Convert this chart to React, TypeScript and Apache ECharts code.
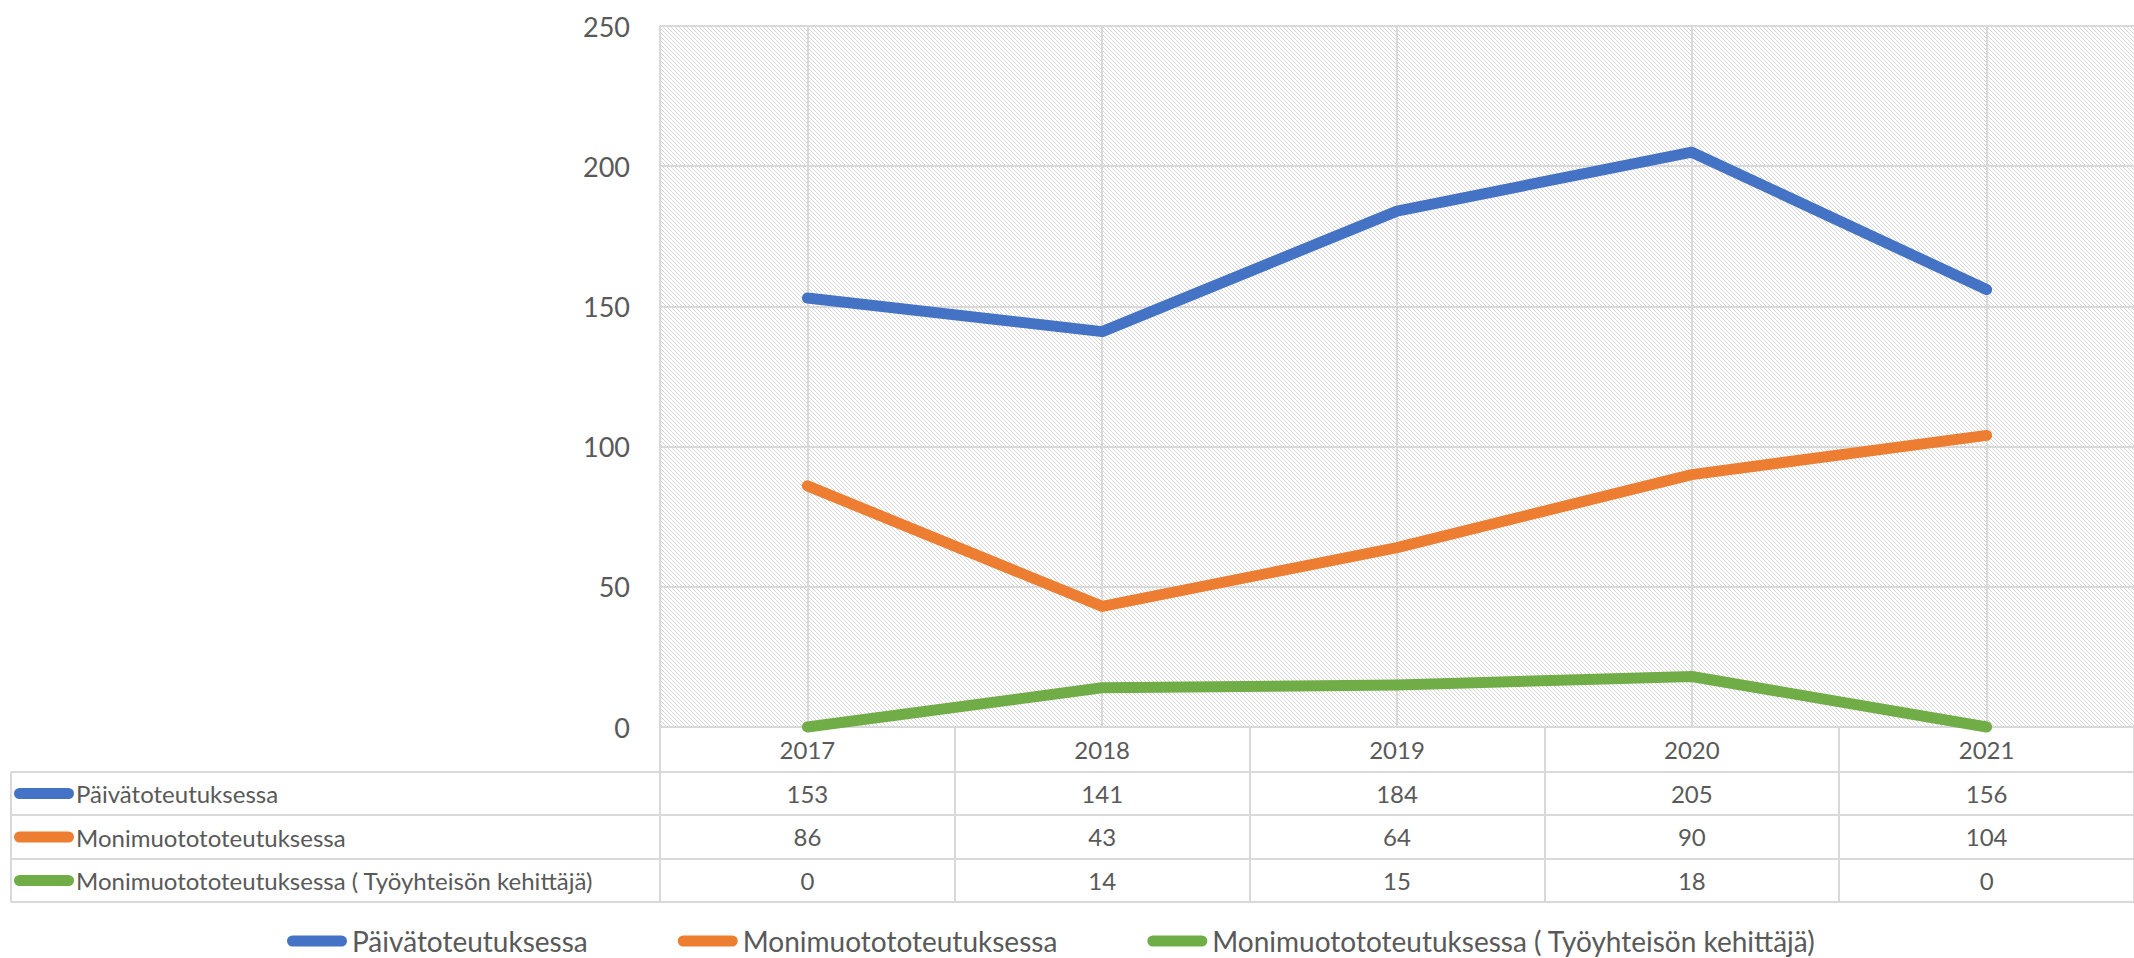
import React, { useEffect, useRef } from 'react';
import * as echarts from 'echarts';

const years = ['2017', '2018', '2019', '2020', '2021'];
const seriesNames = [
  'Päivätoteutuksessa',
  'Monimuotototeutuksessa',
  'Monimuotototeutuksessa ( Työyhteisön kehittäjä)',
];
const paivaValues = [153, 141, 184, 205, 156];
const monimuotoValues = [86, 43, 64, 90, 104];
const tyoyhteisoValues = [0, 14, 15, 18, 0];
const seriesValues = [paivaValues, monimuotoValues, tyoyhteisoValues];
const seriesColors = ['#4472C4', '#ED7D31', '#70AD47'];
const yMin = 0;
const yMax = 250;
const yInterval = 50;

const TEXT = '#595959';
const LINE = '#d9d9d9';
const FONT = 'Lato';

function makePattern() {
  const c = document.createElement('canvas');
  c.width = 4;
  c.height = 4;
  const ctx = c.getContext('2d')!;
  ctx.fillStyle = '#ffffff';
  ctx.fillRect(0, 0, 4, 4);
  ctx.fillStyle = '#d6d6d6';
  for (let i = 0; i < 4; i++) ctx.fillRect(i, i, 1, 1);
  return { image: c, repeat: 'repeat', imageWidth: 4, imageHeight: 4 } as any;
}

export default function App() {
  const ref = useRef<HTMLDivElement>(null);
  useEffect(() => {
    if (!ref.current) return;
    const chart = echarts.init(ref.current, undefined, { renderer: 'svg' });

    const plotBottom = 727;
    const rowLines = [772, 815, 859, 902];
    const graphics: any[] = [];
    rowLines.forEach((y) =>
      graphics.push({
        type: 'line',
        silent: true,
        shape: { x1: 11, y1: y, x2: 2134, y2: y },
        style: { stroke: LINE, lineWidth: 2 },
      })
    );
    graphics.push({
      type: 'line',
      silent: true,
      shape: { x1: 11, y1: rowLines[0], x2: 11, y2: rowLines[3] },
      style: { stroke: LINE, lineWidth: 2 },
    });
    seriesNames.forEach((name, i) => {
      const cy = (rowLines[i] + rowLines[i + 1]) / 2;
      graphics.push({
        type: 'rect',
        silent: true,
        shape: { x: 14, y: cy - 5.5, width: 60, height: 11, r: 5.5 },
        style: { fill: seriesColors[i] },
      });
      graphics.push({
        type: 'text',
        silent: true,
        x: 76,
        y: cy,
        style: {
          text: name,
          fill: TEXT,
          fontSize: 24,
          fontFamily: FONT,
          verticalAlign: 'middle',
          align: 'left',
        },
      });
    });

    const valueAxes = seriesValues.map((vals, i) => ({
      type: 'category',
      gridIndex: 0,
      position: 'bottom',
      offset: rowLines[i] - plotBottom,
      data: years,
      boundaryGap: true,
      axisLine: { show: false },
      axisTick: { show: false },
      splitLine: { show: false },
      axisLabel: {
        interval: 0,
        margin: 9,
        fontSize: 24,
        fontFamily: FONT,
        color: TEXT,
        formatter: (_v: string, idx: number) => String(vals[idx]),
      },
    }));

    const option: any = {
      animation: false,
      backgroundColor: '#ffffff',
      textStyle: { fontFamily: FONT },
      grid: {
        left: 660,
        top: 26,
        right: -11,
        bottom: 958 - plotBottom,
        show: true,
        borderWidth: 0,
        backgroundColor: makePattern(),
        containLabel: false,
      },
      legend: {
        data: seriesNames,
        left: 287,
        top: 927,
        padding: 0,
        itemGap: 90,
        itemWidth: 60,
        itemHeight: 11,
        icon: 'path://M5.5,0 L54.5,0 A5.5,5.5 0 0 1 54.5,11 L5.5,11 A5.5,5.5 0 0 1 5.5,0 Z',
        textStyle: { fontSize: 28, fontFamily: FONT, color: TEXT, padding: 0, lineHeight: 27 },
        selectedMode: false,
      },
      xAxis: [
        {
          type: 'category',
          data: years,
          boundaryGap: true,
          axisLine: { show: true, lineStyle: { color: LINE, width: 2 } },
          axisTick: {
            show: true,
            interval: 0,
            length: rowLines[3] - plotBottom,
            lineStyle: { color: LINE, width: 2 },
          },
          splitLine: { show: false },
          axisLabel: {
            interval: 0,
            margin: 10,
            fontSize: 24,
            fontFamily: FONT,
            color: TEXT,
          },
        },
        ...valueAxes,
      ],
      yAxis: {
        type: 'value',
        min: yMin,
        max: yMax,
        interval: yInterval,
        axisLine: { show: true, lineStyle: { color: LINE, width: 2 } },
        axisTick: { show: false },
        splitLine: { show: true, lineStyle: { color: LINE, width: 2 } },
        axisLabel: { margin: 30, fontSize: 27, fontFamily: FONT, color: TEXT },
      },
      graphic: graphics,
      series: seriesNames.map((name, i) => ({
        type: 'line',
        name,
        data: seriesValues[i],
        xAxisIndex: 0,
        yAxisIndex: 0,
        symbol: 'none',
        showSymbol: false,
        clip: false,
        z: 3,
        color: seriesColors[i],
        itemStyle: { color: seriesColors[i] },
        lineStyle: { width: 11, color: seriesColors[i], cap: 'round', join: 'round' },
        emphasis: { disabled: true },
        markLine:
          i === 0
            ? {
                silent: true,
                symbol: 'none',
                z: 1,
                label: { show: false },
                lineStyle: { color: LINE, width: 2, type: 'solid' },
                emphasis: { disabled: true },
                data: years.map((y) => ({ xAxis: y })),
              }
            : undefined,
      })),
    };
    chart.setOption(option);
    return () => chart.dispose();
  }, []);
  return (
    <div
      ref={ref}
      style={{ position: 'fixed', left: 0, top: 0, width: 2134, height: 958 }}
    />
  );
}
